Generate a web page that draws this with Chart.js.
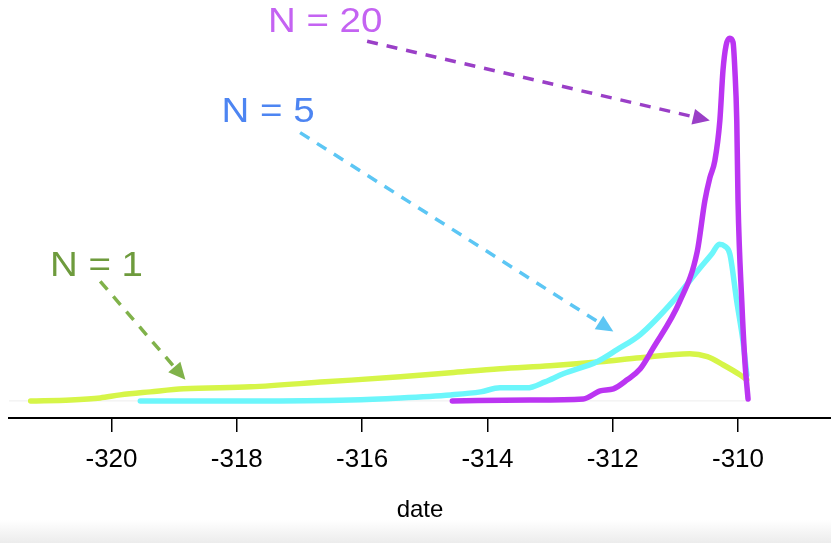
<!DOCTYPE html>
<html>
<head>
<meta charset="utf-8">
<script src="https://cdn.jsdelivr.net/npm/chart.js@4"></script>
<style>
  html, body { margin: 0; padding: 0; background: #fff; }
  #wrap { position: relative; width: 831px; height: 543px; overflow: hidden; }
  #band { position: absolute; left: 0; top: 520px; width: 831px; height: 23px;
          background: linear-gradient(to bottom, #ffffff, #ececec); }
</style>
</head>
<body>
<div id="wrap">
  <canvas id="c" width="831" height="543"></canvas>
  <div id="band"></div>
</div>
<script>
// density curves (x = date, y = density)
const n1X = [-321.29, -320.65, -320.18, -319.86, -319.38, -318.85, -317.78, -316.59, -315.39, -314.59, -313.80, -313.00, -312.20, -311.56, -310.77, -310.49, -310.24, -309.97, -309.86];
const n1Y = [0, 0.005, 0.015, 0.03, 0.045, 0.06, 0.07, 0.095, 0.12, 0.14, 0.16, 0.175, 0.195, 0.215, 0.235, 0.22, 0.18, 0.13, 0.105];

const n5X = [-319.54, -317.78, -316.19, -315.39, -314.59, -314.11, -313.80, -313.37, -313.08, -312.79, -312.25, -311.93, -311.56, -311.04, -310.61, -310.41, -310.30, -310.21, -310.13, -310.02, -309.92, -309.86];
const n5Y = [0, 0, 0.005, 0.015, 0.03, 0.045, 0.065, 0.065, 0.095, 0.135, 0.195, 0.255, 0.33, 0.495, 0.66, 0.735, 0.78, 0.77, 0.73, 0.495, 0.295, 0.13];

const n20X = [-314.56, -313.32, -312.47, -312.20, -311.99, -311.77, -311.56, -311.36, -310.93, -310.65, -310.53, -310.45, -310.37, -310.29, -310.24, -310.19, -310.13, -310.08, -310.05, -310.02, -310.00, -309.94, -309.89, -309.84];
const n20Y = [0, 0.005, 0.01, 0.05, 0.06, 0.105, 0.16, 0.26, 0.495, 0.745, 0.995, 1.11, 1.195, 1.395, 1.645, 1.77, 1.805, 1.785, 1.645, 1.395, 0.995, 0.495, 0.195, 0.01];

const tickValues = [-320, -318, -316, -314, -312, -310];

// annotations: label text, label position, arrow start/end (data units)
const noteTexts = ['N = 1', 'N = 5', 'N = 20'];
const noteColors = ['#6e9b3d', '#4d85f2', '#c463f2'];
const arrowColors = ['#80b24a', '#5cc6f4', '#9a3fc7'];
const noteX = [-320.24, -317.50, -316.59];
const noteY = [0.67, 1.435, 1.885];
const arrowFromX = [-320.18, -316.99, -315.92];
const arrowFromY = [0.595, 1.335, 1.79];
const arrowToX = [-318.82, -311.99, -310.45];
const arrowToY = [0.105, 0.345, 1.395];

function pts(xs, ys) {
  return xs.map((x, i) => ({ x: x, y: ys[i] }));
}

// dashed arrows with text labels
const notesPlugin = {
  id: 'notes',
  afterDatasetsDraw(chart) {
    const ctx = chart.ctx;
    const xs = chart.scales.x, ys = chart.scales.y;
    ctx.save();
    for (let i = 0; i < noteTexts.length; i++) {
      const x0 = xs.getPixelForValue(arrowFromX[i]), y0 = ys.getPixelForValue(arrowFromY[i]);
      const x1 = xs.getPixelForValue(arrowToX[i]), y1 = ys.getPixelForValue(arrowToY[i]);
      const ang = Math.atan2(y1 - y0, x1 - x0);
      const headLen = 17, headW = 8;
      const bx = x1 - headLen * Math.cos(ang), by = y1 - headLen * Math.sin(ang);
      ctx.strokeStyle = arrowColors[i];
      ctx.fillStyle = arrowColors[i];
      ctx.lineWidth = 3.5;
      ctx.setLineDash([11, 9]);
      ctx.beginPath();
      ctx.moveTo(x0, y0);
      ctx.lineTo(bx, by);
      ctx.stroke();
      ctx.setLineDash([]);
      ctx.beginPath();
      ctx.moveTo(x1, y1);
      ctx.lineTo(bx + headW * Math.sin(ang), by - headW * Math.cos(ang));
      ctx.lineTo(bx - headW * Math.sin(ang), by + headW * Math.cos(ang));
      ctx.closePath();
      ctx.fill();

      const tx = xs.getPixelForValue(noteX[i]), ty = ys.getPixelForValue(noteY[i]);
      ctx.save();
      ctx.translate(tx, ty);
      ctx.scale(1.1, 1);
      ctx.font = '35px "Liberation Sans", Arial, sans-serif';
      ctx.textAlign = 'center';
      ctx.textBaseline = 'middle';
      ctx.fillStyle = noteColors[i];
      ctx.fillText(noteTexts[i], 0, 0);
      ctx.restore();
    }
    ctx.restore();
  }
};

const ctx = document.getElementById('c').getContext('2d');
new Chart(ctx, {
  type: 'line',
  data: {
    datasets: [
      { label: 'N = 20', data: pts(n20X, n20Y), borderColor: '#bb35f2', borderWidth: 5.5, order: 0 },
      { label: 'N = 5', data: pts(n5X, n5Y), borderColor: '#6cf6fb', borderWidth: 5.5, order: 1 },
      { label: 'N = 1', data: pts(n1X, n1Y), borderColor: '#d6f548', borderWidth: 5.5, order: 2 },
      { label: 'base', data: pts([-321.64, -309.84], [0, 0]), borderColor: '#ededed', borderWidth: 1, order: 3 }
    ]
  },
  options: {
    responsive: false,
    animation: false,
    elements: {
      point: { radius: 0 },
      line: { cubicInterpolationMode: 'monotone', borderCapStyle: 'round', borderJoinStyle: 'round', fill: false }
    },
    layout: { padding: { left: 9, right: 0, top: 0, bottom: 13 } },
    plugins: { legend: { display: false }, tooltip: { enabled: false } },
    scales: {
      x: {
        type: 'linear',
        min: -321.636,
        max: -308.516,
        afterBuildTicks: (axis) => { axis.ticks = tickValues.map(v => ({ value: v })); },
        border: { display: true, color: '#000', width: 2 },
        grid: { drawOnChartArea: false, drawTicks: true, tickLength: 14, color: '#000', lineWidth: 1.5 },
        ticks: { color: '#000', padding: 12, maxRotation: 0,
                 font: { family: '"Liberation Sans", Arial, sans-serif', size: 26 } },
        title: { display: true, text: 'date', color: '#000', padding: { top: 9, bottom: 5 },
                 font: { family: '"Liberation Sans", Arial, sans-serif', size: 24 } }
      },
      y: {
        display: false,
        min: -0.085,
        max: 1.995
      }
    }
  },
  plugins: [notesPlugin]
});
</script>
</body>
</html>
